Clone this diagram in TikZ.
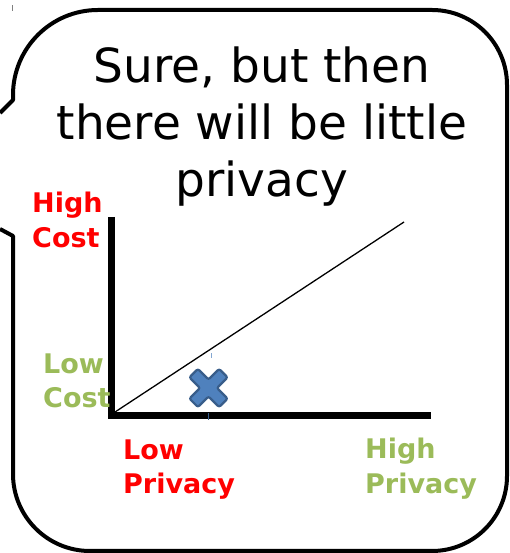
\documentclass[tikz,border=0pt]{standalone}
\usepackage{fontspec}
\setmainfont{DejaVu Sans}
\definecolor{lblred}{HTML}{FF0000}
\definecolor{lblgreen}{HTML}{9BBB59}
\definecolor{xfill}{HTML}{4F81BD}
\definecolor{xline}{HTML}{385D8A}
\begin{document}
\begin{tikzpicture}[x=1pt,y=1pt,
  callout/.style={line width=4pt, line join=round},
  titletext/.style={inner sep=0pt, anchor=base, font=\fontsize{47}{57}\selectfont},
  lbl/.style={inner sep=0pt, anchor=base west, font=\fontsize{27}{34}\selectfont\bfseries},
  axisline/.style={line width=7pt, line join=miter},
  tick/.style={line width=0.8pt}]
\useasboundingbox (0,0) rectangle (510,553);
% speech bubble
\draw[callout] (0,440) -- (13,453) -- (13,458)
  arc[start angle=180, end angle=90, radius=85] -- (432,543)
  arc[start angle=90, end angle=0, radius=75] -- (507,77)
  arc[start angle=0, end angle=-90, radius=75] -- (90,2)
  arc[start angle=270, end angle=180, radius=77] -- (13,317) -- (0,324);
% title
\node[titletext] (t1) at (262,470) {Sure, but then};
\node[titletext] (t2) at (262,413) {there will be little};
\node[titletext] (t3) at (262,356) {privacy};
% axes
\coordinate (ytop) at (111,336);
\coordinate (O) at (111,137);
\coordinate (xend) at (431,137);
\draw[axisline] (ytop) -- (O) -- (xend);
% diagonal
\coordinate (d0) at (112,139);
\coordinate (d1) at (404,331);
\draw[line width=1.3pt] (d0) -- (d1);
% labels
\node[lbl, text=lblred] (hc1) at (32,340) {High};
\node[lbl, text=lblred] (hc2) at (32,305) {Cost};
\node[lbl, text=lblgreen] (lc1) at (43,179) {Low};
\node[lbl, text=lblgreen] (lc2) at (43,145) {Cost};
\node[lbl, text=lblred] (lp1) at (123,93) {Low};
\node[lbl, text=lblred] (lp2) at (123,59) {Privacy};
\node[lbl, text=lblgreen] (hp1) at (365,94) {High};
\node[lbl, text=lblgreen] (hp2) at (365,59) {Privacy};
% X mark
\begin{scope}[shift={(208.5,165)}, rotate=45]
\draw[fill=xfill, draw=xline, line width=2.2pt, rounded corners=2pt]
  (6,21) -- (6,6) -- (21,6) -- (21,-6) -- (6,-6) -- (6,-21) -- (-6,-21)
  -- (-6,-6) -- (-21,-6) -- (-21,6) -- (-6,6) -- (-6,21) -- cycle;
\end{scope}
% small ticks
\draw[tick, gray] (12,542) -- (12,548);
\draw[tick, xfill!70] (211,195) -- (211,200);
\draw[tick, xline] (208,133) -- (208,140);
\end{tikzpicture}
\end{document}
